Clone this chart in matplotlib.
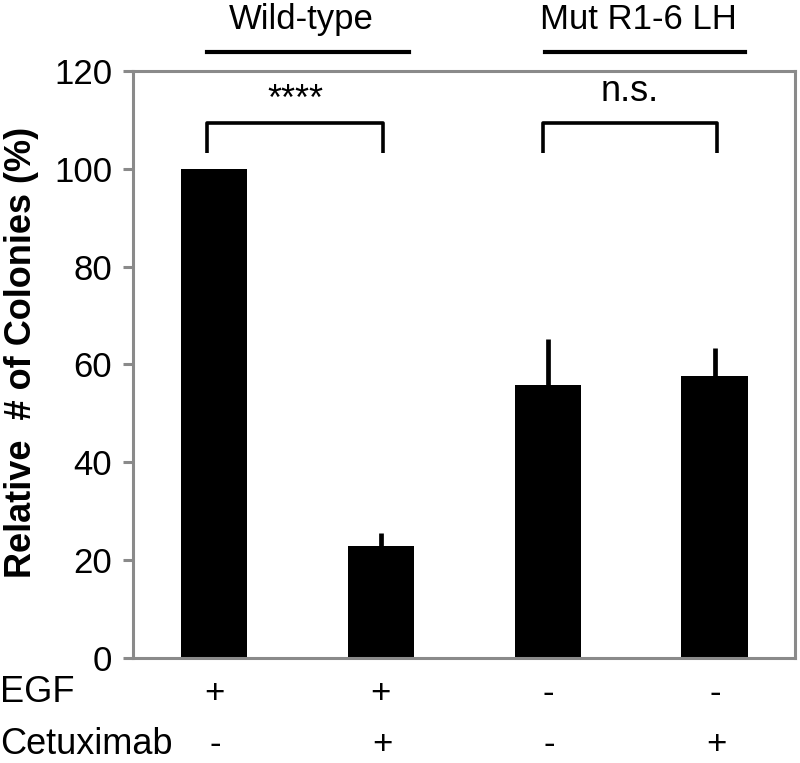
import numpy as np
import matplotlib.pyplot as plt
from matplotlib.transforms import blended_transform_factory

plt.rcParams['font.family'] = ['Liberation Sans', 'DejaVu Sans']

groups = ['Wild-type', 'Mut R1-6 LH']
egf = ['+', '+', '-', '-']
cetuximab = ['-', '+', '-', '+']
values = [100, 22.8, 55.8, 57.6]
errors = [0, 2.7, 9.4, 5.8]
sig = ['****', 'n.s.']

x = np.arange(len(values))
grey = '#8a8a8a'
fs = 26

fig = plt.figure(figsize=(8, 7.63), dpi=100)
ax = fig.add_axes([133/800, 105/763, 662/800, 587/763])

ax.bar(x, values, width=0.4, color='black', zorder=2)
ax.errorbar(x, values, yerr=[np.zeros(4), errors], fmt='none', ecolor='black',
            elinewidth=3.4, capsize=0, zorder=1)

ax.set_xlim(-0.485, 3.48)
ax.set_ylim(0, 120)
ax.set_yticks(np.arange(0, 121, 20))
ax.set_xticks([])
for s in ax.spines.values():
    s.set_color(grey)
    s.set_linewidth(2.2)
ax.tick_params(axis='y', colors=grey, length=7, width=2.2, labelsize=25,
               labelcolor='black', pad=8)

# significance brackets
brackets = [(-0.04, 1.01, sig[0], 114.0), (1.97, 3.01, sig[1], 115.8)]
for x0, x1, lab, ty in brackets:
    ax.plot([x0, x0, x1, x1], [103.2, 109.4, 109.4, 103.2], color='black',
            lw=2.6, solid_joinstyle='round', solid_capstyle='butt')
    ax.text((x0 + x1) / 2, ty, lab, ha='center', va='center', fontsize=fs)

# group labels on top
tr = blended_transform_factory(ax.transData, ax.transAxes)
for (x0, x1), g in zip([(-0.04, 1.17), (1.98, 3.18)], groups):
    ax.plot([x0, x1], [1.032, 1.032], color='black', lw=3, transform=tr,
            clip_on=False)
    ax.text((x0 + x1) / 2 - 0.04, 1.087, g, ha='center', va='center',
            fontsize=25, transform=tr)

# treatment rows
for xi, e, c in zip(x, egf, cetuximab):
    ax.text(xi, -0.06, e, ha='center', va='center', fontsize=25, transform=tr)
    ax.text(xi + 0.01, -0.147, c, ha='center', va='center', fontsize=25,
            transform=tr)
fig.text(0, (763 - 693) / 763, 'EGF', ha='left', va='center', fontsize=fs)
fig.text(0, (763 - 744) / 763, 'Cetuximab', ha='left', va='center', fontsize=fs)

fig.text(22/800, (763 - 352) / 763, 'Relative  # of Colonies (%)', rotation=90,
         ha='center', va='center', fontsize=fs, fontweight='bold')

fig.savefig('out.png', dpi=100)
